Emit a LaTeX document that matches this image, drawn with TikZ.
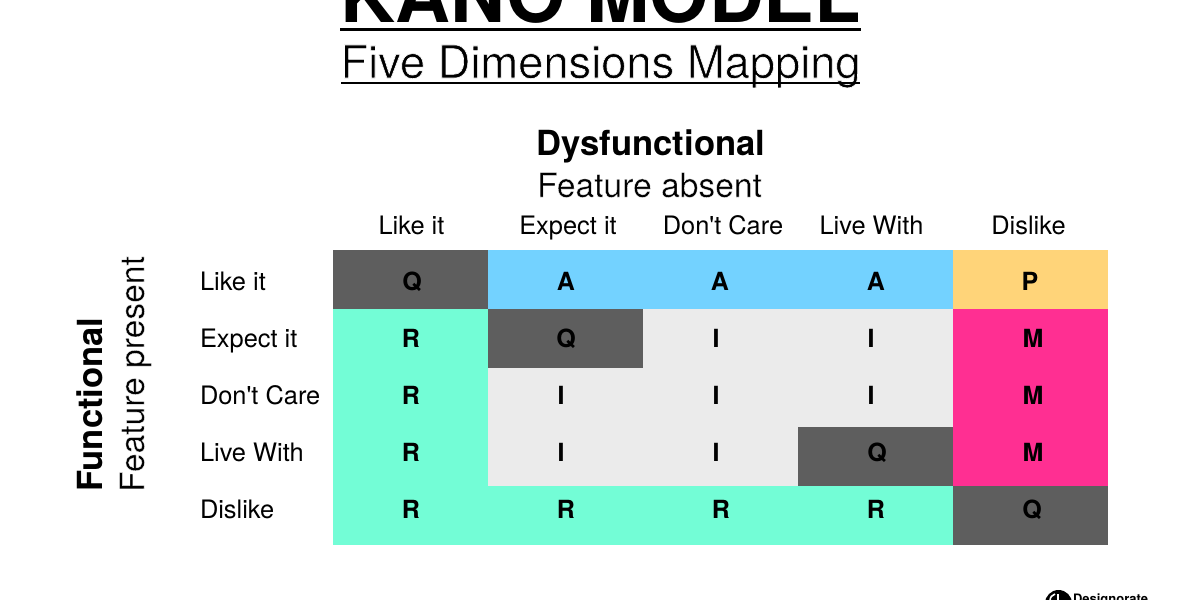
\documentclass[tikz,border=0pt]{standalone}
\usepackage{fontspec}
\setmainfont{TeX Gyre Heros}
\newfontfamily\hv{TeX Gyre Heros}
\newcommand{\thinner}[1]{\special{pdf:code 2 Tr 1 1 1 RG #1 w}}
\newcommand{\thindone}{\special{pdf:code 0 Tr}}
\definecolor{qgrey}{HTML}{5E5E5E}
\definecolor{ablue}{HTML}{73D2FF}
\definecolor{rgreen}{HTML}{73FDD6}
\definecolor{igrey}{HTML}{EBEBEB}
\definecolor{porange}{HTML}{FFD479}
\definecolor{mpink}{HTML}{FF2F92}
\tikzset{
  txt/.style={anchor=base,inner sep=0pt,outer sep=0pt,text=black},
  col/.style={txt,font=\hv\fontsize{25.4}{25.4}\selectfont},
  rowl/.style={txt,anchor=base west,font=\hv\fontsize{25.4}{25.4}\selectfont},
  letter/.style={txt,font=\fontsize{25}{25}\selectfont\bfseries},
  head/.style={txt,font=\fontsize{34.6}{34.6}\selectfont\bfseries},
  sub/.style={txt,font=\fontsize{33.6}{33.6}\selectfont},
  cell/.style={fill=#1,draw=none}
}
\begin{document}
\begin{tikzpicture}[x=1pt,y=-1pt]
\useasboundingbox (0,0) rectangle (1200,600);
\clip (0,0) rectangle (1200,600);
\fill[white] (0,0) rectangle (1200,600);
% title
\node[txt,font=\fontsize{76}{76}\selectfont\bfseries] (title) at (601,22) {KANO MODEL};
\fill[black] (339.5,27.5) rectangle (861,31);
\node[txt,font=\fontsize{45.3}{45.3}\selectfont] (subtitle) at (600.5,78) {\thinner{0.6}Five Dimensions Mapping\thindone};
\fill[black] (341,82) rectangle (860,83.5);
% axis heads
\node[head] (dys) at (651,155) {Dysfunctional};
\node[sub] (abs) at (649.5,197) {\thinner{0.3}Feature absent\thindone};
\node[head,rotate=90] (fun) at (102,404.5) {Functional};
\node[sub,rotate=90] (pres) at (144,374) {\thinner{0.3}Feature present\thindone};
% cells
\fill[cell=ablue] (488,250) rectangle (953,309);
\fill[cell=qgrey] (333,250) rectangle (488,309);
\fill[cell=porange] (953,250) rectangle (1108,309);
\fill[cell=rgreen] (333,309) rectangle (488,545);
\fill[cell=rgreen] (488,486) rectangle (953,545);
\fill[cell=igrey] (488,309) rectangle (953,486);
\fill[cell=qgrey] (488,309) rectangle (643,368);
\fill[cell=qgrey] (798,427) rectangle (953,486);
\fill[cell=mpink] (953,309) rectangle (1108,486);
\fill[cell=qgrey] (953,486) rectangle (1108,545);
% column labels
\node[col] (c1) at (411.5,234.5) {Like it};
\node[col] (c2) at (568,234.5) {Expect it};
\node[col] (c3) at (723,234.5) {Don't Care};
\node[col] (c4) at (871.5,234.5) {Live With};
\node[col] (c5) at (1028.5,234.5) {Dislike};
% row labels
\node[rowl] (r1) at (200,290) {Like it};
\node[rowl] (r2) at (200,347) {Expect it};
\node[rowl] (r3) at (200,404) {Don't Care};
\node[rowl] (r4) at (200,461) {Live With};
\node[rowl] (r5) at (200,518) {Dislike};
% letters
\node[letter] (a11) at (412,290) {Q};
\node[letter] (a12) at (566,290) {A};
\node[letter] (a13) at (720,290) {A};
\node[letter] (a14) at (876,290) {A};
\node[letter] (a15) at (1030,290) {P};
\node[letter] (a21) at (411,347) {R};
\node[letter] (a22) at (566,347) {Q};
\node[letter] (a23) at (716,347) {I};
\node[letter] (a24) at (871,347) {I};
\node[letter] (a25) at (1033,347) {M};
\node[letter] (a31) at (411,404) {R};
\node[letter] (a32) at (561,404) {I};
\node[letter] (a33) at (716,404) {I};
\node[letter] (a34) at (871,404) {I};
\node[letter] (a35) at (1033,404) {M};
\node[letter] (a41) at (411,461) {R};
\node[letter] (a42) at (561,461) {I};
\node[letter] (a43) at (716,461) {I};
\node[letter] (a44) at (877,461) {Q};
\node[letter] (a45) at (1033,461) {M};
\node[letter] (a51) at (411,518) {R};
\node[letter] (a52) at (566,518) {R};
\node[letter] (a53) at (721,518) {R};
\node[letter] (a54) at (876,518) {R};
\node[letter] (a55) at (1032,518) {Q};
% logo
\fill[black] (1058.5,603.5) circle (13.5);
\draw[white,line width=1.6pt] (1050,601) .. controls (1050,597) and (1052,595) .. (1055,594);
\draw[white,line width=2pt] (1058,594) -- (1058,601);
\node[txt,anchor=base west,font=\fontsize{13}{13}\selectfont\bfseries] (logo) at (1073,603) {Designorate};
\end{tikzpicture}
\end{document}
